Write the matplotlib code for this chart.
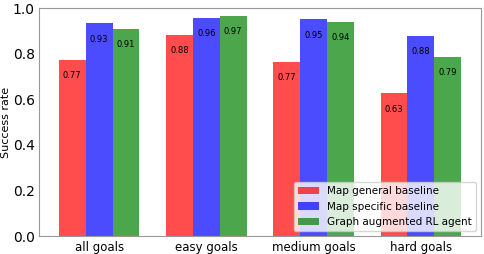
import numpy as np
import matplotlib
matplotlib.use("Agg")
from matplotlib import pyplot as plt

categories = ["all goals", "easy goals", "medium goals", "hard goals"]
general = [0.773, 0.884, 0.765, 0.626]
specific = [0.933, 0.957, 0.951, 0.879]
graph_rl = [0.909, 0.967, 0.940, 0.786]
series_names = ["Map general baseline", "Map specific baseline", "Graph augmented RL agent"]

fig, ax = plt.subplots(figsize=(4.85, 2.54), dpi=100)
x = np.arange(len(categories))
w = 0.25
colors = ["red", "blue", "green"]
for i, (vals, name) in enumerate(zip([general, specific, graph_rl], series_names)):
    bars = ax.bar(x + (i - 1) * w, vals, w, color=colors[i], alpha=0.7, label=name)
    for b, v in zip(bars, vals):
        ax.text(b.get_x() + b.get_width() / 2, v - 0.07, "%.2f" % v,
                ha="center", va="center", fontsize=6)

ax.set_ylim(0, 1.0)
ax.set_xticks(x)
ax.set_xticklabels(categories, fontsize=8.5)
ax.tick_params(axis="y", labelsize=10, length=0, pad=3)
ax.tick_params(axis="x", length=0)
ax.set_ylabel("Success rate", fontsize=8, labelpad=1)
for s in ax.spines.values():
    s.set_color("#999999")
ax.legend(loc="lower right", fontsize=7.5)
plt.subplots_adjust(left=0.08, right=0.992, top=0.968, bottom=0.07)
plt.savefig("out.png")
